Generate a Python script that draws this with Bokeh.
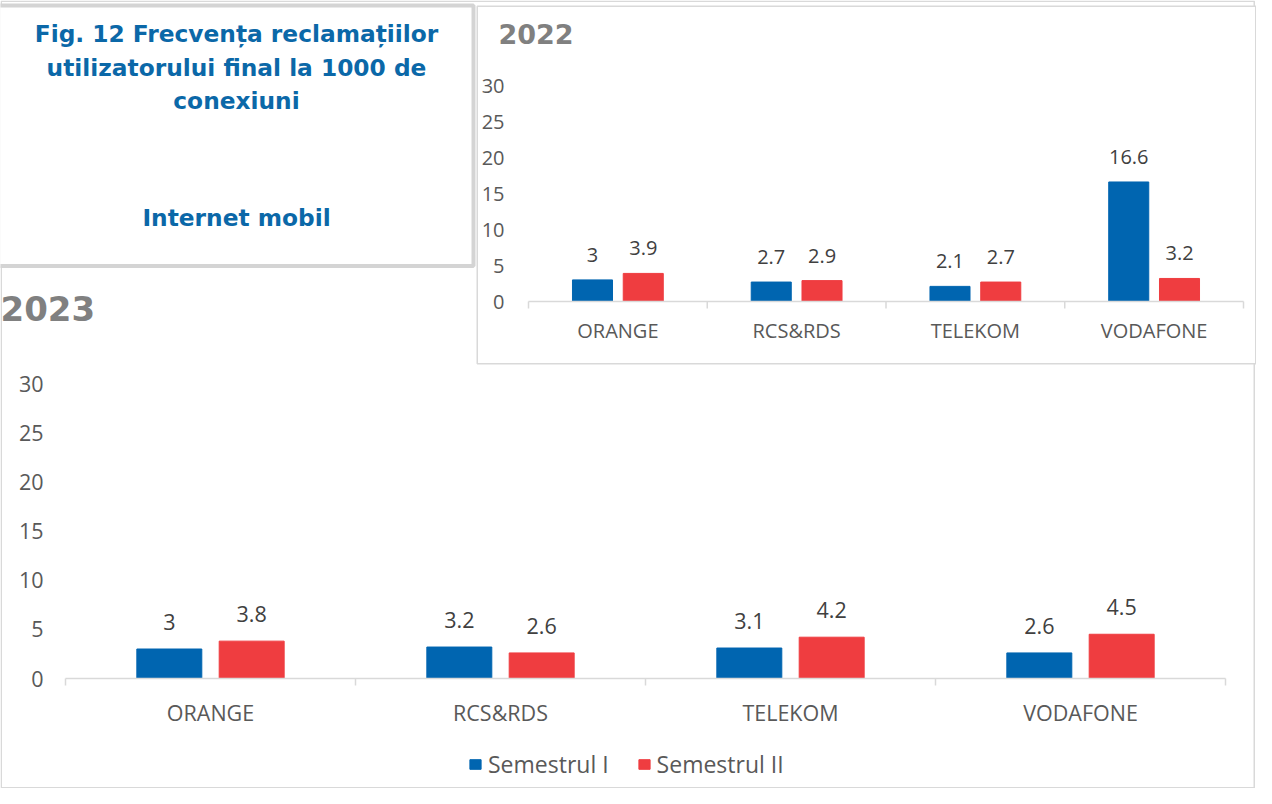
from bokeh.plotting import figure
from bokeh.models import Range1d, Legend, LegendItem, ColumnDataSource
from bokeh.transform import dodge
from bokeh.embed import file_html
from bokeh.resources import INLINE
from bokeh.core.properties import value

# ---------------- data ----------------
categories = ["ORANGE", "RCS&RDS", "TELEKOM", "VODAFONE"]
series_names = ["Semestrul I", "Semestrul II"]
values_2022_s1 = [3, 2.7, 2.1, 16.6]
values_2022_s2 = [3.9, 2.9, 2.7, 3.2]
values_2023_s1 = [3, 3.2, 3.1, 2.6]
values_2023_s2 = [3.8, 2.6, 4.2, 4.5]
y_ticks = [0, 5, 10, 15, 20, 25, 30]
title_lines = ["Fig. 12 Frecvența reclamațiilor",
               "utilizatorului final la 1000 de",
               "conexiuni"]
subtitle_text = "Internet mobil"

# ---------------- style ----------------
BLUE = "#0065b0"
RED = "#ef3d40"
AXIS_GREY = "#d9d9d9"
LABEL_GREY = "#595959"
VALUE_GREY = "#404040"
YEAR_GREY = "#808080"
TITLE_BLUE = "#0b68a8"
FONT = "Open Sans"
TFONT = "DejaVu Sans"

W, H = 1256, 788
BAR_OFF = 0.142
BAR_W = 0.224

p = figure(width=W, height=H, output_backend="svg", toolbar_location=None,
           x_range=Range1d(0, W), y_range=Range1d(H, 0),
           x_axis_type=None, y_axis_type=None, min_border=0, title=None)
p.outline_line_color = None
p.background_fill_color = "white"
p.border_fill_color = "white"


def px_range(v_a, p_a, v_b, p_b, total, from_top=False):
    """Range whose value v_a sits at pixel p_a and v_b at pixel p_b."""
    slope = (v_b - v_a) / (p_b - p_a)
    if from_top:
        return Range1d(v_a + (total - p_a) * slope, v_a + (0 - p_a) * slope)
    return Range1d(v_a + (0 - p_a) * slope, v_a + (total - p_a) * slope)


def fmt(v):
    return "{:g}".format(v)


def draw_chart(name, s1, s2, x_px, y_px, fsize, value_gap, tick_gap,
               cat_gap, year, year_pos, year_size):
    n = len(categories)
    xr, yr = "x" + name, "y" + name
    p.extra_x_ranges[xr] = px_range(0, x_px[0], n, x_px[1], W)
    p.extra_y_ranges[yr] = px_range(0, y_px[0], 30, y_px[1], H, from_top=True)
    unit = 30.0 / (y_px[0] - y_px[1])  # data units per pixel

    src = ColumnDataSource(dict(
        x=[i + 0.5 for i in range(n)], s1=s1, s2=s2,
        l1=[fmt(v) for v in s1], l2=[fmt(v) for v in s2], cat=categories,
        zero=[0] * n))
    kw = dict(x_range_name=xr, y_range_name=yr)

    # year heading
    p.text(x=[year_pos[0]], y=[year_pos[1]], text=[year], text_align="left",
           text_baseline="middle", text_font=value(TFONT),
           text_font_style="bold", text_font_size=f"{year_size}px",
           text_color=YEAR_GREY)

    r1 = p.vbar(x=dodge("x", -BAR_OFF), top="s1", bottom=0, width=BAR_W,
                source=src, fill_color=BLUE, line_color=BLUE, **kw)
    r2 = p.vbar(x=dodge("x", BAR_OFF), top="s2", bottom=0, width=BAR_W,
                source=src, fill_color=RED, line_color=RED, **kw)
    for xo, ycol, lcol in ((-BAR_OFF, "s1", "l1"), (BAR_OFF, "s2", "l2")):
        p.text(x=dodge("x", xo), y=ycol, text=lcol, source=src,
               text_align="center", text_baseline="alphabetic",
               y_offset=-value_gap, text_font=value(FONT),
               text_font_size=f"{fsize}px", text_color=VALUE_GREY, **kw)

    # category axis: line, separators, labels
    p.segment(x0=[0], y0=[0], x1=[n], y1=[0], line_color=AXIS_GREY,
              line_width=1.5, **kw)
    seps = list(range(n + 1))
    p.segment(x0=seps, y0=[0] * len(seps), x1=seps,
              y1=[-7 * unit] * len(seps), line_color=AXIS_GREY,
              line_width=1.5, **kw)
    p.text(x="x", y="zero", text="cat", source=src, y_offset=cat_gap,
           text_align="center", text_baseline="middle",
           text_font=value(FONT), text_font_size=f"{fsize}px",
           text_color=LABEL_GREY, **kw)

    # value axis labels
    p.text(x=[0] * len(y_ticks), y=y_ticks, text=[str(t) for t in y_ticks],
           x_offset=-tick_gap, text_align="right", text_baseline="middle",
           text_font=value(FONT), text_font_size=f"{fsize}px",
           text_color=LABEL_GREY, **kw)
    return r1, r2


# ---- main chart (2023) ----
p.quad(left=[0.75], right=[1253.75], top=[0.75], bottom=[787.25],
       fill_color="white", line_color=AXIS_GREY, line_width=1.5)
r1, r2 = draw_chart("23", values_2023_s1, values_2023_s2,
                    x_px=(65, 1225), y_px=(678, 383), fsize=21.5,
                    value_gap=27, tick_gap=22, cat_gap=34,
                    year="2023", year_pos=(0, 308), year_size=34)

legend = Legend(items=[LegendItem(label=series_names[0], renderers=[r1]),
                       LegendItem(label=series_names[1], renderers=[r2])],
                orientation="horizontal", location=(468, 8),
                glyph_width=14, glyph_height=12, label_standoff=6,
                spacing=28, padding=0, margin=0,
                border_line_color=None, background_fill_alpha=0,
                label_text_font=FONT, label_text_font_size="23px",
                label_text_color=LABEL_GREY)
p.add_layout(legend, "center")

# ---- title box ----
p.quad(left=[-10], right=[473], top=[5], bottom=[265.5], fill_color="white",
       line_color="#d4d4d4", line_width=4)
line_h = 33.5
p.text(x=[236] * len(title_lines),
       y=[33 + i * line_h for i in range(len(title_lines))],
       text=title_lines, text_align="center", text_baseline="middle",
       text_font=value(TFONT), text_font_style="bold",
       text_font_size="23.3px", text_color=TITLE_BLUE)
p.text(x=[236], y=[217], text=[subtitle_text], text_align="center",
       text_baseline="middle", text_font=value(TFONT),
       text_font_style="bold", text_font_size="23.3px", text_color=TITLE_BLUE)

# ---- inset chart (2022) ----
p.quad(left=[476.75], right=[1255.25], top=[5.75], bottom=[363.25],
       fill_color="white", line_color=AXIS_GREY, line_width=1.5)
draw_chart("22", values_2022_s1, values_2022_s2,
           x_px=(528, 1243), y_px=(301, 85), fsize=20,
           value_gap=25, tick_gap=24, cat_gap=29,
           year="2022", year_pos=(498, 33), year_size=27)

open("out.html", "w").write(file_html(p, INLINE))
